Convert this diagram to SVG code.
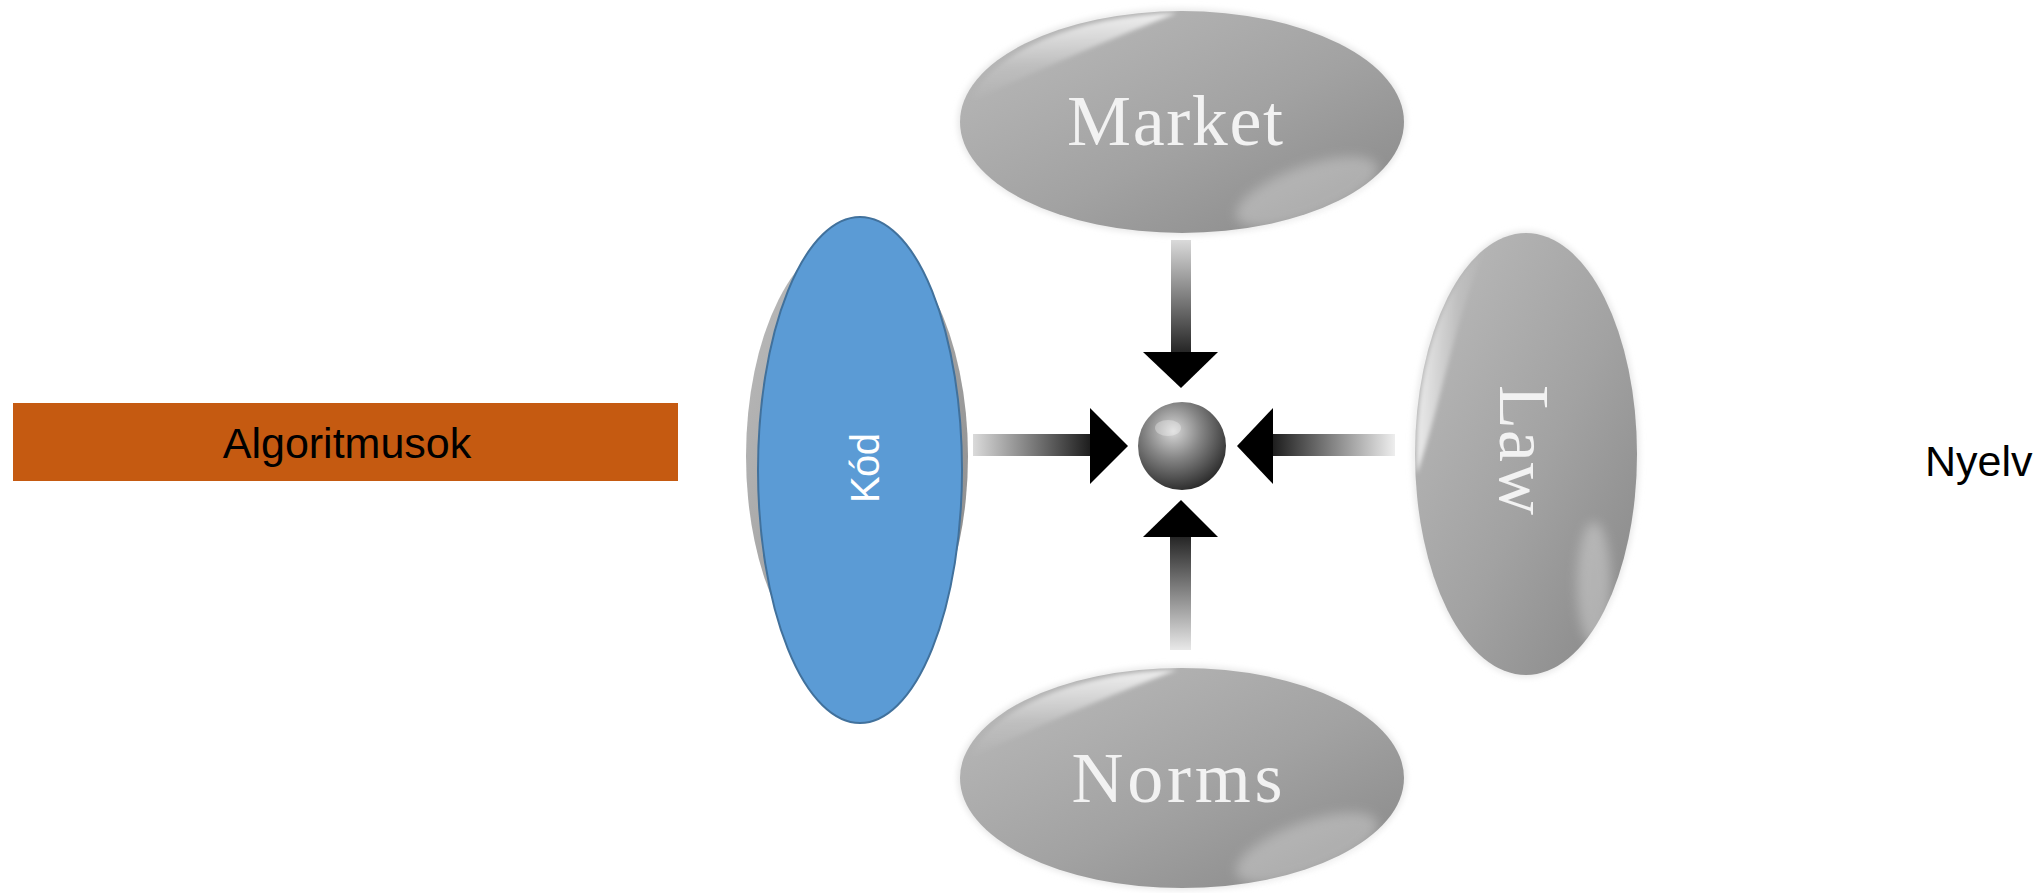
<svg xmlns="http://www.w3.org/2000/svg" width="2039" height="893" viewBox="0 0 2039 893">
<style>
.lbl-serif{font-family:"Liberation Serif","Times New Roman",serif;fill:#f2f2f2;font-size:72px;text-anchor:middle}
.lbl-sans{font-family:"Liberation Sans",Arial,sans-serif;fill:#000;}
</style>
<defs>
<linearGradient id="gGrey" x1="0" y1="0" x2="1" y2="1">
<stop offset="0" stop-color="#bcbcbc"/>
<stop offset="0.55" stop-color="#a2a2a2"/>
<stop offset="1" stop-color="#868686"/>
</linearGradient>
<linearGradient id="gHiV" x1="0" y1="0" x2="0" y2="1">
<stop offset="0" stop-color="#fff" stop-opacity="0.8"/>
<stop offset="0.6" stop-color="#fff" stop-opacity="0.15"/>
<stop offset="1" stop-color="#fff" stop-opacity="0"/>
</linearGradient>
<linearGradient id="gHiH" x1="0" y1="0" x2="1" y2="0">
<stop offset="0" stop-color="#fff" stop-opacity="0.75"/>
<stop offset="0.6" stop-color="#fff" stop-opacity="0.15"/>
<stop offset="1" stop-color="#fff" stop-opacity="0"/>
</linearGradient>
<radialGradient id="gSphere" cx="0.4" cy="0.33" r="0.7">
<stop offset="0" stop-color="#d8d8d8"/>
<stop offset="0.45" stop-color="#858585"/>
<stop offset="1" stop-color="#2a2a2a"/>
</radialGradient>
<linearGradient id="gDown" x1="0" y1="0" x2="0" y2="1">
<stop offset="0" stop-color="#dadada"/>
<stop offset="1" stop-color="#262626"/>
</linearGradient>
<linearGradient id="gUp" x1="0" y1="1" x2="0" y2="0">
<stop offset="0" stop-color="#e8e8e8"/>
<stop offset="1" stop-color="#262626"/>
</linearGradient>
<linearGradient id="gRight" x1="0" y1="0" x2="1" y2="0">
<stop offset="0" stop-color="#dadada"/>
<stop offset="1" stop-color="#1e1e1e"/>
</linearGradient>
<linearGradient id="gLeft" x1="1" y1="0" x2="0" y2="0">
<stop offset="0" stop-color="#eeeeee"/>
<stop offset="1" stop-color="#1e1e1e"/>
</linearGradient>
<filter id="soft" x="-50%" y="-50%" width="200%" height="200%">
<feGaussianBlur stdDeviation="6"/>
</filter>
<filter id="soft2" x="-20%" y="-20%" width="140%" height="140%">
<feGaussianBlur stdDeviation="2"/>
</filter>
<filter id="halo" x="-20%" y="-20%" width="140%" height="140%">
<feGaussianBlur stdDeviation="3"/>
</filter>
</defs>

<rect width="2039" height="893" fill="#fff"/>

<g id="node-algoritmusok">
<rect x="13" y="403" width="665" height="78" fill="#C55A11"/>
<text class="lbl-sans" x="347" y="458" font-size="43" text-anchor="middle">Algoritmusok</text>
</g>

<g id="node-nyelv">
<text class="lbl-sans" x="1925" y="476" font-size="43">Nyelv</text>
</g>

<g id="node-market" transform="translate(1182,122)">
<ellipse rx="224" ry="113" fill="#e6e6e6" filter="url(#halo)"/>
<ellipse rx="222" ry="111" fill="url(#gGrey)"/>
<path d="M -212,-20 A 222 111 0 0 1 -5,-109 C -80,-80 -160,-45 -212,-20 Z" fill="url(#gHiV)" filter="url(#soft2)"/>
<ellipse cx="125" cy="70" rx="75" ry="26" transform="rotate(-20 125 70)" fill="#fff" opacity="0.28" filter="url(#soft)"/>
<text class="lbl-serif" x="-7" y="23" textLength="216" lengthAdjust="spacing">Market</text>
</g>

<g id="node-norms" transform="translate(1182,778)">
<ellipse rx="224" ry="112" fill="#e6e6e6" filter="url(#halo)"/>
<ellipse rx="222" ry="110" fill="url(#gGrey)"/>
<path d="M -212,-20 A 222 110 0 0 1 -5,-108 C -80,-80 -160,-45 -212,-20 Z" fill="url(#gHiV)" filter="url(#soft2)"/>
<ellipse cx="125" cy="70" rx="75" ry="26" transform="rotate(-20 125 70)" fill="#fff" opacity="0.28" filter="url(#soft)"/>
<text class="lbl-serif" x="-5" y="24" textLength="211" lengthAdjust="spacing">Norms</text>
</g>

<g id="node-law" transform="translate(1526,454)">
<ellipse rx="113" ry="223" fill="#e6e6e6" filter="url(#halo)"/>
<ellipse rx="111" ry="221" fill="url(#gGrey)"/>
<path d="M -40,-206 A 111 221 0 0 0 -109,20 C -85,-50 -70,-140 -40,-206 Z" fill="url(#gHiH)" filter="url(#soft2)"/>
<ellipse cx="68" cy="130" rx="17" ry="62" fill="#fff" opacity="0.3" filter="url(#soft)"/>
<text class="lbl-serif" transform="translate(-26,-4) rotate(90)" font-size="72" textLength="130" lengthAdjust="spacing">Law</text>
</g>

<g id="node-kod">
<ellipse cx="857" cy="456" rx="111" ry="221" fill="url(#gGrey)"/>
<ellipse cx="860" cy="470" rx="102" ry="253" fill="#5B9BD5" stroke="#41719C" stroke-width="2"/>
<text class="lbl-sans" transform="translate(879,468) rotate(-90)" font-size="40" style="fill:#fff" text-anchor="middle" textLength="70" lengthAdjust="spacing">Kód</text>
</g>

<g id="node-center">
<circle cx="1182" cy="446" r="44" fill="url(#gSphere)"/>
<ellipse cx="1168" cy="428" rx="13" ry="8" fill="#fff" opacity="0.3"/>
</g>

<g id="connectors">
<rect x="1171" y="240" width="20" height="112" fill="url(#gDown)"/>
<polygon points="1143,352 1218,352 1181,388" fill="#000"/>
<rect x="1170" y="537" width="21" height="113" fill="url(#gUp)"/>
<polygon points="1143,537 1218,537 1181,500" fill="#000"/>
<rect x="973" y="434" width="117" height="22" fill="url(#gRight)"/>
<polygon points="1090,408 1090,484 1128,446" fill="#000"/>
<rect x="1273" y="434" width="122" height="22" fill="url(#gLeft)"/>
<polygon points="1273,408 1273,484 1237,446" fill="#000"/>
</g>
</svg>
